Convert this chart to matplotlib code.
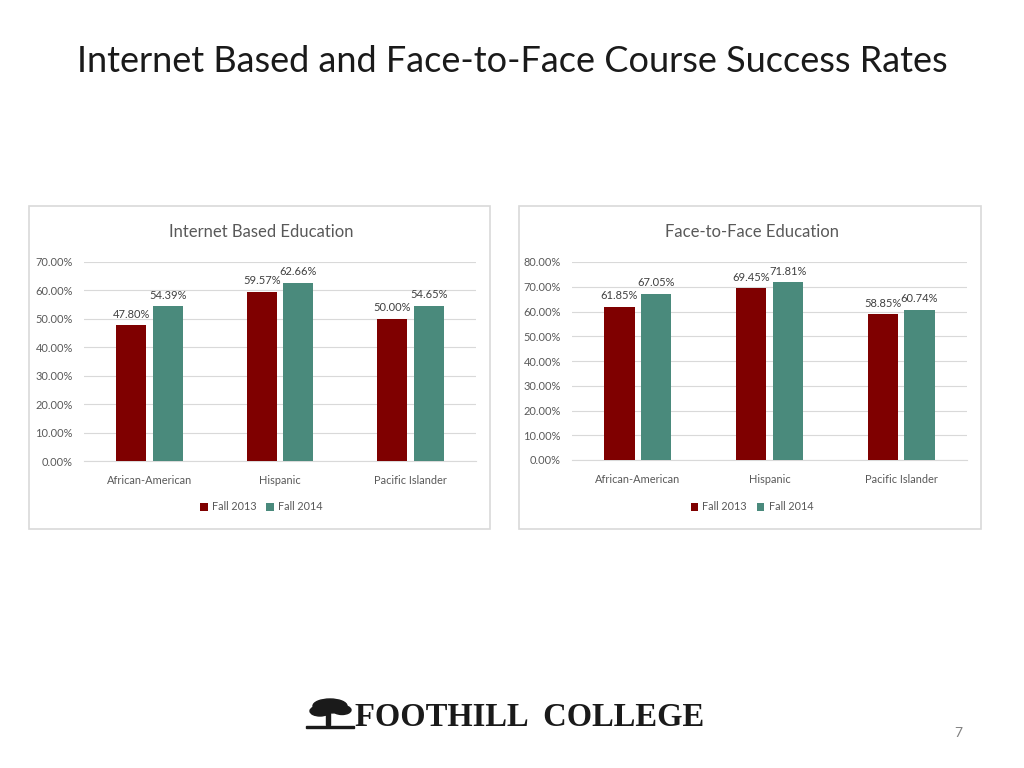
import matplotlib
matplotlib.use("Agg")
import matplotlib.pyplot as plt
from matplotlib.patches import Rectangle, Ellipse
from matplotlib.ticker import FuncFormatter, MultipleLocator
import numpy as np

plt.rcParams['font.family'] = ['Lato', 'DejaVu Sans']

categories = ["African-American", "Hispanic", "Pacific Islander"]
series_names = ["Fall 2013", "Fall 2014"]
internet_2013 = [47.80, 59.57, 50.00]
internet_2014 = [54.39, 62.66, 54.65]
f2f_2013 = [61.85, 69.45, 58.85]
f2f_2014 = [67.05, 71.81, 60.74]

RED = "#7F0000"
TEAL = "#4A8A7C"
GRID = "#D9D9D9"
TXT = "#595959"

W, H = 1024, 768
fig = plt.figure(figsize=(W / 100, H / 100), dpi=100)
fig.patch.set_facecolor("white")

def fx(px):
    return px / W

def fy(py):
    return 1 - py / H

# Slide title
fig.text(fx(512), fy(62), "Internet Based and Face-to-Face Course Success Rates",
         ha="center", va="center", fontsize=26, color="#1a1a1a")

def panel(box, axrect, title, v13, v14, ymax):
    x0, y0, x1, y1 = box
    fig.patches.append(Rectangle((fx(x0), fy(y1)), fx(x1 - x0), (y1 - y0) / H,
                                 transform=fig.transFigure, facecolor="white",
                                 edgecolor=GRID, linewidth=1.2, zorder=-5))
    ax = fig.add_axes(axrect)
    ax.set_zorder(2)
    x = np.arange(len(categories))
    off = 0.14
    bw = 0.23
    b1 = ax.bar(x - off, v13, bw, color=RED, label=series_names[0], zorder=3)
    b2 = ax.bar(x + off, v14, bw, color=TEAL, label=series_names[1], zorder=3)
    for bars, vals in ((b1, v13), (b2, v14)):
        for rect, v in zip(bars, vals):
            ax.annotate(f"{v:.2f}%", (rect.get_x() + rect.get_width() / 2, v),
                        xytext=(0, 4), textcoords="offset points",
                        ha="center", va="bottom", fontsize=8, color="#404040")
    ax.set_xlim(-0.5, 2.5)
    ax.set_ylim(0, ymax)
    ax.yaxis.set_major_locator(MultipleLocator(10))
    ax.yaxis.set_major_formatter(FuncFormatter(lambda v, p: f"{v:.2f}%"))
    ax.set_xticks(x)
    ax.set_xticklabels(categories)
    ax.tick_params(axis="both", length=0, labelsize=7.9, labelcolor=TXT)
    ax.tick_params(axis="y", pad=8)
    ax.tick_params(axis="x", pad=10)
    ax.grid(axis="y", color=GRID, linewidth=0.8, zorder=0)
    ax.set_axisbelow(True)
    for s in ("top", "right", "left"):
        ax.spines[s].set_visible(False)
    ax.spines["bottom"].set_color(GRID)
    ax.spines["bottom"].set_linewidth(0.8)
    ax.set_facecolor("none")
    cx = (x0 + x1) / 2
    fig.text(fx(cx + 2), fy(232), title, ha="center", va="center",
             fontsize=12, color=TXT)
    leg = ax.legend(loc="center", bbox_to_anchor=(fx(cx + 2), fy(507)),
                    bbox_transform=fig.transFigure, ncol=2, frameon=False,
                    fontsize=7.8, handlelength=0.7, handleheight=0.7,
                    handletextpad=0.4, columnspacing=0.9)
    for t in leg.get_texts():
        t.set_color(TXT)
    return ax

panel((29, 206, 490, 529), [fx(84), fy(461), fx(392), (461 - 262) / H],
      "Internet Based Education", internet_2013, internet_2014, 70)
panel((519, 206, 981, 529), [fx(572), fy(460), fx(395), (460 - 262) / H],
      "Face-to-Face Education", f2f_2013, f2f_2014, 80)

# Logo text
fig.text(fx(355), fy(717), "FOOTHILL  COLLEGE", ha="left", va="center",
         fontsize=23.5, fontweight="bold", family="Liberation Serif", color="#1a1a1a")
# Simple tree mark
tree = [
    Ellipse((fx(330), fy(706)), fx(34), 14 / H, transform=fig.transFigure, color="#1a1a1a"),
    Ellipse((fx(320), fy(711)), fx(20), 10 / H, transform=fig.transFigure, color="#1a1a1a"),
    Ellipse((fx(342), fy(710)), fx(18), 9 / H, transform=fig.transFigure, color="#1a1a1a"),
]
for p in tree:
    fig.patches.append(p)
fig.patches.append(Rectangle((fx(326), fy(725)), fx(4), 12 / H,
                             transform=fig.transFigure, color="#1a1a1a"))
fig.patches.append(Rectangle((fx(306), fy(728)), fx(48), 2 / H,
                             transform=fig.transFigure, color="#1a1a1a"))

# Page number
fig.text(fx(958), fy(733), "7", ha="center", va="center", fontsize=10, color="#808080")

fig.savefig("out.png", dpi=100, facecolor="white")
